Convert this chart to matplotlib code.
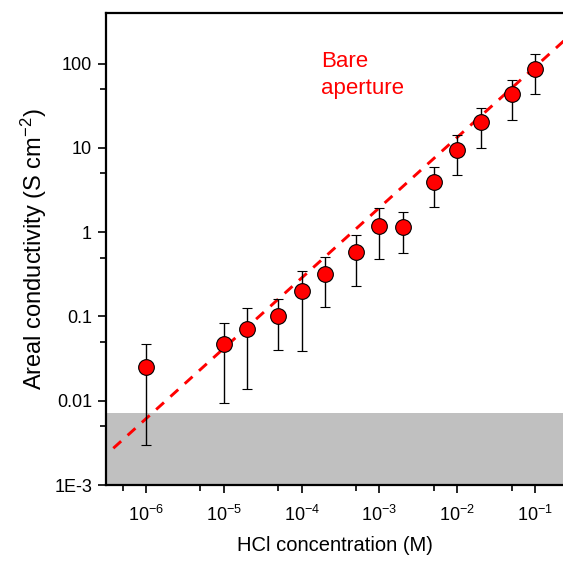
import numpy as np
import matplotlib
matplotlib.use("Agg")
import matplotlib.pyplot as plt
from matplotlib.ticker import LogLocator, FixedLocator, FixedFormatter, NullFormatter

plt.rcParams['font.family'] = ['Liberation Sans', 'DejaVu Sans']
plt.rcParams['mathtext.fontset'] = 'custom'
plt.rcParams['mathtext.rm'] = 'Liberation Sans'
plt.rcParams['mathtext.it'] = 'Liberation Sans:italic'

# HCl concentration (M) and measured areal conductivity (S cm^-2)
conc = [1e-6, 1e-5, 2e-5, 5e-5, 1e-4, 2e-4, 5e-4, 1e-3, 2e-3, 5e-3, 1e-2, 2e-2, 5e-2, 1e-1]
cond = [0.0254, 0.0473, 0.0707, 0.1007, 0.198, 0.323, 0.585, 1.2, 1.16, 3.97, 9.5, 20.1, 43.7, 87.3]
err_hi = [0.0469, 0.0847, 0.125, 0.160, 0.351, 0.515, 0.923, 1.93, 1.73, 5.93, 14.1, 29.8, 64.6, 131]
err_lo = [0.0030, 0.0094, 0.0139, 0.0398, 0.039, 0.129, 0.231, 0.483, 0.574, 2.0, 4.77, 9.97, 21.6, 43.7]

# bare aperture prediction (dashed line end points)
bare_x = [3.8e-7, 0.3]
bare_y = [0.00273, 229]

# detection limit band
floor_lo, floor_hi = 1e-3, 0.0072

cond = np.array(cond)
yerr = [cond - np.array(err_lo), np.array(err_hi) - cond]

fig = plt.figure(figsize=(5.63, 5.62), dpi=100)
ax = fig.add_axes([106/563, 1 - 485/562, 1 - 106/563, (485 - 13)/562])

ax.axhspan(floor_lo, floor_hi, color='#c0c0c0', lw=0, zorder=0)
ax.plot(bare_x, bare_y, color='#ff0000', lw=2.1, dashes=(3.6, 3), zorder=2)
ax.errorbar(conc, cond, yerr=yerr, fmt='o', color='black', ecolor='black',
            elinewidth=1, capsize=3.3, capthick=1, mfc='#ff0000', mec='black',
            mew=0.8, ms=11.3, zorder=3)

ax.set_xscale('log')
ax.set_yscale('log')
ax.set_xlim(3.06e-7, 0.229)
ax.set_ylim(1e-3, 400)

ax.xaxis.set_major_locator(FixedLocator([1e-6, 1e-5, 1e-4, 1e-3, 1e-2, 1e-1]))
ax.xaxis.set_major_formatter(FixedFormatter([r'$10^{-6}$', r'$10^{-5}$', r'$10^{-4}$',
                                             r'$10^{-3}$', r'$10^{-2}$', r'$10^{-1}$']))
ax.xaxis.set_minor_locator(LogLocator(base=10, subs=[5.0], numticks=20))
ax.xaxis.set_minor_formatter(NullFormatter())

ax.yaxis.set_major_locator(FixedLocator([1e-3, 1e-2, 1e-1, 1, 10, 100]))
ax.yaxis.set_major_formatter(FixedFormatter(['1E-3', '0.01', '0.1', '1', '10', '100']))
ax.yaxis.set_minor_locator(LogLocator(base=10, subs=[5.0], numticks=20))
ax.yaxis.set_minor_formatter(NullFormatter())

ax.tick_params(which='major', direction='out', length=6, width=1.2, labelsize=13, pad=4)
ax.tick_params(which='minor', direction='out', length=4, width=1.2)
ax.tick_params(axis='x', which='major', pad=8)

ax.spines['right'].set_visible(False)
for s in ['left', 'bottom', 'top']:
    ax.spines[s].set_linewidth(1.6)

ax.set_xlabel('HCl concentration (M)', fontsize=14.5, labelpad=8)
ax.set_ylabel(r'Areal conductivity (S cm$^{-2}$)', fontsize=17, labelpad=4)

ax.text(1.8e-4, 140, 'Bare\naperture', color='#ff0000', fontsize=16,
        va='top', ha='left', linespacing=1.35)

fig.savefig('out.png', dpi=100)
